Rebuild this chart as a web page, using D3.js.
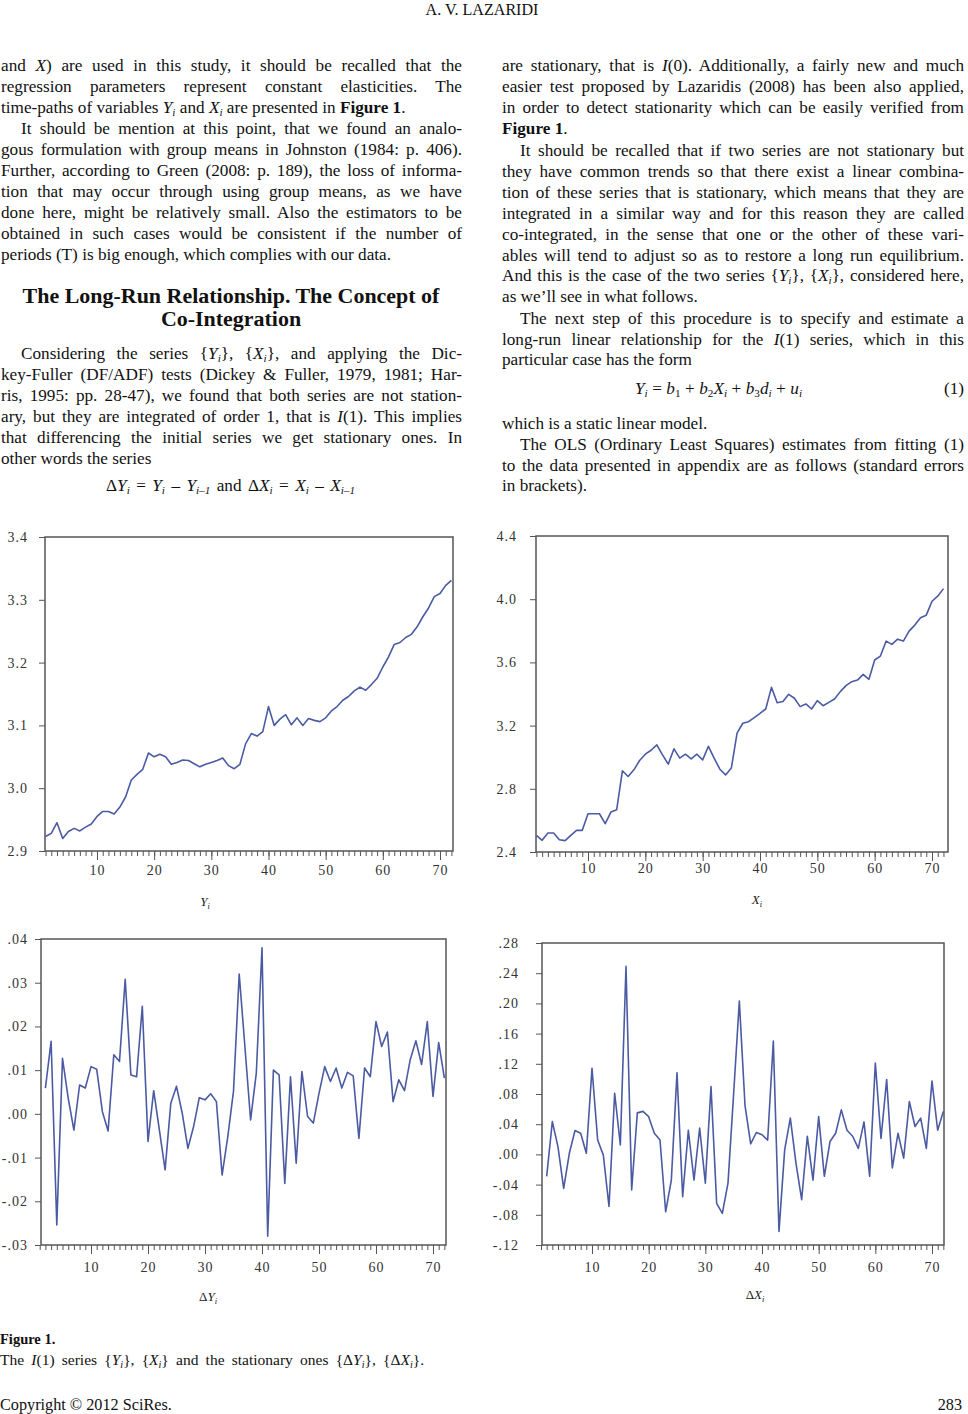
<!DOCTYPE html>
<html><head><meta charset="utf-8">
<script src="https://cdn.jsdelivr.net/npm/d3@7"></script>
<style>body{margin:0;background:#fff} svg{display:block}</style>
</head><body>
<svg id="page" width="968" height="1414"></svg>
<script>
// ---------- DATA ----------
const xIndex = d3.range(1, 73);
const xTickLabels = [10, 20, 30, 40, 50, 60, 70];

const Yvals = [2.923,2.928,2.945,2.920,2.931,2.936,2.932,2.938,2.943,2.955,
2.963,2.963,2.959,2.970,2.986,3.013,3.022,3.030,3.056,3.050,
3.054,3.050,3.038,3.041,3.045,3.044,3.039,3.034,3.038,3.041,
3.044,3.048,3.036,3.031,3.038,3.071,3.087,3.083,3.090,3.130,
3.100,3.110,3.117,3.101,3.112,3.100,3.111,3.108,3.106,3.112,
3.123,3.130,3.140,3.146,3.155,3.161,3.156,3.165,3.175,3.193,
3.209,3.229,3.232,3.240,3.245,3.257,3.273,3.287,3.305,3.310,3.323,3.331];

const Xvals = [2.505,2.474,2.520,2.520,2.478,2.472,2.505,2.537,2.537,2.642,
2.642,2.642,2.579,2.653,2.667,2.914,2.878,2.920,2.979,3.019,
3.044,3.078,3.015,2.956,3.053,2.994,3.019,2.989,3.019,2.983,
3.069,2.994,2.924,2.888,2.931,3.152,3.215,3.225,3.251,3.278,
3.305,3.442,3.345,3.352,3.398,3.373,3.320,3.337,3.305,3.358,
3.326,3.347,3.368,3.415,3.453,3.478,3.488,3.524,3.493,3.615,
3.640,3.735,3.714,3.747,3.735,3.798,3.836,3.882,3.899,3.987,4.019,4.067];

// observations 2..72
const dYvals = [0.0059,0.0166,-0.0254,0.0127,0.0036,-0.0037,0.0066,0.0059,0.0108,0.0102,
0.0005,-0.0039,0.0135,0.0120,0.0308,0.0089,0.0085,0.0246,-0.0063,0.0053,
-0.0037,-0.0128,0.0024,0.0063,0.0002,-0.0079,-0.0029,0.0037,0.0032,0.0046,
0.0028,-0.0140,-0.0052,0.0052,0.0320,0.0154,-0.0014,0.0093,0.0380,-0.0280,
0.0100,0.0089,-0.0159,0.0085,-0.0113,0.0097,-0.0006,-0.0021,0.0047,0.0108,
0.0074,0.0105,0.0059,0.0095,0.0087,-0.0056,0.0105,0.0085,0.0211,0.0154,
0.0187,0.0028,0.0078,0.0053,0.0124,0.0167,0.0113,0.0211,0.0040,0.0163,0.0082];

const dXvals = [-0.029,0.0435,0.010,-0.045,0.0015,0.0316,0.028,0.0015,0.114,0.019,
-0.001,-0.069,0.081,0.0126,0.249,-0.047,0.055,0.057,0.050,0.028,
0.019,-0.076,-0.034,0.108,-0.056,0.032,-0.034,0.035,-0.038,0.090,
-0.065,-0.078,-0.038,0.081,0.203,0.065,0.014,0.029,0.026,0.019,
0.150,-0.102,0.006,0.048,-0.012,-0.060,0.024,-0.034,0.050,-0.029,
0.017,0.028,0.059,0.032,0.024,0.008,0.043,-0.029,0.121,0.021,
0.099,-0.018,0.028,-0.005,0.070,0.037,0.048,0.008,0.097,0.032,0.057];

const yTicksY  = [2.9, 3.0, 3.1, 3.2, 3.3, 3.4];
const yTicksX  = [2.4, 2.8, 3.2, 3.6, 4.0, 4.4];
const yTicksDY = [-0.03, -0.02, -0.01, 0, 0.01, 0.02, 0.03, 0.04];
const yTicksDX = [-0.12, -0.08, -0.04, 0, 0.04, 0.08, 0.12, 0.16, 0.20, 0.24, 0.28];
const axisTitles = ["*Y*~i~", "*X*~i~", "Δ*Y*~i~", "Δ*X*~i~"];

// ---------- TEXT ----------
const leftLines = [
 ["and *X*) are used in this study, it should be recalled that the", 65, 0, true],
 ["regression parameters represent constant elasticities. The", 86, 0, true],
 ["time-paths of variables *Y*~i~ and *X*~i~ are presented in #Figure 1#.", 107, 0, false],
 ["It should be mention at this point, that we found an analo-", 128, 20, true],
 ["gous formulation with group means in Johnston (1984: p. 406).", 149, 0, true],
 ["Further, according to Green (2008: p. 189), the loss of informa-", 170, 0, true],
 ["tion that may occur through using group means, as we have", 191, 0, true],
 ["done here, might be relatively small. Also the estimators to be", 212, 0, true],
 ["obtained in such cases would be consistent if the number of", 233, 0, true],
 ["periods (T) is big enough, which complies with our data.", 254, 0, false],
 ["Considering the series {*Y*~i~}, {*X*~i~}, and applying the Dic-", 353, 20, true],
 ["key-Fuller (DF/ADF) tests (Dickey & Fuller, 1979, 1981; Har-", 374, 0, true],
 ["ris, 1995: pp. 28-47), we found that both series are not station-", 395, 0, true],
 ["ary, but they are integrated of order 1, that is *I*(1). This implies", 416, 0, true],
 ["that differencing the initial series we get stationary ones. In", 437, 0, true],
 ["other words the series", 458, 0, false]
];
const rightLines = [
 ["are stationary, that is *I*(0). Additionally, a fairly new and much", 65, 0, true],
 ["easier test proposed by Lazaridis (2008) has been also applied,", 86, 0, true],
 ["in order to detect stationarity which can be easily verified from", 107, 0, true],
 ["#Figure 1#.", 128, 0, false],
 ["It should be recalled that if two series are not stationary but", 150, 18, true],
 ["they have common trends so that there exist a linear combina-", 171, 0, true],
 ["tion of these series that is stationary, which means that they are", 192, 0, true],
 ["integrated in a similar way and for this reason they are called", 213, 0, true],
 ["co-integrated, in the sense that one or the other of these vari-", 234, 0, true],
 ["ables will tend to adjust so as to restore a long run equilibrium.", 255, 0, true],
 ["And this is the case of the two series {*Y*~i~}, {*X*~i~}, considered here,", 275, 0, true],
 ["as we’ll see in what follows.", 296, 0, false],
 ["The next step of this procedure is to specify and estimate a", 318, 18, true],
 ["long-run linear relationship for the *I*(1) series, which in this", 339, 0, true],
 ["particular case has the form", 359, 0, false],
 ["which is a static linear model.", 423, 0, false],
 ["The OLS (Ordinary Least Squares) estimates from fitting (1)", 444, 18, true],
 ["to the data presented in appendix are as follows (standard errors", 465, 0, true],
 ["in brackets).", 485, 0, false]
];
const headingLines = ["The Long-Run Relationship. The Concept of", "Co-Integration"];
const eqLeft = "Δ*Y*~i~ = *Y*~i~ – *Y*~i–1~ and Δ*X*~i~ = *X*~i~ – *X*~i–1~";
const eqRight = "*Y*~i~ = *b*~1~ + *b*~2~*X*~i~ + *b*~3~*d*~i~ + *u*~i~";
const captionTitle = "#Figure 1.#";
const captionText = "The *I*(1) series {*Y*~i~}, {*X*~i~} and the stationary ones {Δ*Y*~i~}, {Δ*X*~i~}.";
const headerText = "A. V. LAZARIDI";
const footerLeft = "Copyright © 2012 SciRes.";
const footerRight = "283";

// ---------- RENDER ----------
const svg = d3.select('#page');
const FONT = '"Liberation Serif","Times New Roman",serif';
let bodySize = 16;

function rich(g, str, x, y, o = {}) {
  const size = o.size || bodySize;
  const t = g.append('text').attr('x', x).attr('y', y)
    .attr('font-family', FONT).attr('font-size', size)
    .attr('fill', o.fill || '#111')
    .attr('font-weight', o.bold ? 'bold' : 'normal')
    .attr('text-anchor', o.anchor || 'start');
  const parts = str.split(/(\*[^*]+\*|#[^#]+#|~[^~]+~)/).filter(s => s.length);
  let shifted = false;
  const sh = Math.max(2, Math.round(size * 0.2));
  let plain = '';
  parts.forEach(p => {
    let txt = p, it = false, bd = false, sub = false;
    if (p.length > 2 && p[0] === '*' && p[p.length - 1] === '*') { txt = p.slice(1, -1); it = true; }
    else if (p.length > 2 && p[0] === '#' && p[p.length - 1] === '#') { txt = p.slice(1, -1); bd = true; }
    else if (p.length > 2 && p[0] === '~' && p[p.length - 1] === '~') { txt = p.slice(1, -1); sub = true; it = /[a-z]/.test(txt); }
    plain += txt;
    const ts = t.append('tspan').text(txt);
    if (it) ts.attr('font-style', 'italic');
    if (bd) ts.attr('font-weight', 'bold');
    if (sub) { ts.attr('font-size', size * 0.65); if (!shifted) { ts.attr('dy', sh); shifted = true; } }
    else if (shifted) { ts.attr('dy', -sh); shifted = false; }
  });
  if (o.width) {
    const len = t.node().getComputedTextLength();
    const n = (plain.match(/ /g) || []).length;
    if (n > 0) t.style('word-spacing', ((o.width - len) / n) + 'px');
  }
  return t;
}
function measure(str, size, bold) {
  const p = rich(svg, str, 0, -200, { size, bold });
  const w = p.node().getComputedTextLength();
  p.remove();
  return w;
}
function fit(str, size, target, bold, lo, hi) {
  return Math.max(lo, Math.min(hi, size * target / measure(str, size, bold)));
}

// calibrate body font size from several unjustified lines of known width
{
  const probes = [
    ["periods (T) is big enough, which complies with our data.", 407],
    ["time-paths of variables *Y*~i~ and *X*~i~ are presented in #Figure 1#.", 436],
    ["other words the series", 156],
    ["particular case has the form", 199],
    ["which is a static linear model.", 169],
    ["as we’ll see in what follows.", 170]
  ];
  let m = 0, r = 0;
  probes.forEach(([s, w]) => { m += measure(s, 16); r += w; });
  bodySize = Math.max(14.5, Math.min(17.5, 16 * r / m));
}
const base = c => c + bodySize * 0.32;

const textG = svg.append('g');
{
  const hs = fit(headerText, 15, 113, false, 13, 18);
  rich(textG, headerText, 482, 10 + hs * 0.34, { size: hs, anchor: 'middle' });
}

function column(lines, x0, w) {
  lines.forEach(([s, cy, ind, just]) => {
    rich(textG, s, x0 + ind, base(cy), just ? { width: w - ind } : {});
  });
}
column(leftLines, 1, 461);
column(rightLines, 502, 462);

// heading (fit width)
{
  const hs = fit(headingLines[0], 20, 417, true, 17, 22);
  rich(textG, headingLines[0], 231, 296 + hs * 0.33, { size: hs, bold: true, anchor: 'middle' });
  rich(textG, headingLines[1], 231, 319 + hs * 0.33, { size: hs, bold: true, anchor: 'middle' });
}

rich(textG, eqLeft, 106, base(485), { width: 249 });
rich(textG, eqRight, 635, base(388), { width: 167 });
rich(textG, "(1)", 964, base(388), { anchor: 'end' });

{
  const fs = fit(footerLeft, 15, 172, false, 13, 17.5);
  const cs = fit(captionText, 14, 424, false, 13, 15.5);
  rich(textG, captionTitle, 0, 1339 + 5, { size: 14.5 });
  rich(textG, captionText, 0, 1360 + 5, { size: cs, width: 424 });
  rich(textG, footerLeft, 0, 1405 + 5, { size: fs });
  rich(textG, footerRight, 962, 1405 + 5, { size: fs, anchor: 'end' });
}

// charts
const f1 = d3.format('.1f');
const f2 = v => (v < 0 ? '-' : '') + Math.abs(v).toFixed(2).replace(/^0/, '');

const charts = [
  { vals: Yvals,  start: 1, frame: { l: 45,  r: 453, t: 537, b: 851 },  x10: 97,  x70: 440, dom: [2.9, 3.4],    ticks: yTicksY,  fmt: f1, ypad: 11, xpad: 5, title: axisTitles[0], tx: 205, ty: 902 },
  { vals: Xvals,  start: 1, frame: { l: 536, r: 948, t: 536, b: 852 },  x10: 588, x70: 932, dom: [2.4, 4.4],    ticks: yTicksX,  fmt: f1, ypad: 13, xpad: 2, title: axisTitles[1], tx: 757, ty: 900 },
  { vals: dYvals, start: 2, frame: { l: 41,  r: 446, t: 939, b: 1245 }, x10: 91,  x70: 433, dom: [-0.03, 0.04], ticks: yTicksDY, fmt: f2, ypad: 7,  xpad: 8, title: axisTitles[2], tx: 208, ty: 1297 },
  { vals: dXvals, start: 2, frame: { l: 542, r: 944, t: 943, b: 1245 }, x10: 592, x70: 932, dom: [-0.12, 0.28], ticks: yTicksDX, fmt: f2, ypad: 17, xpad: 8, title: axisTitles[3], tx: 755, ty: 1295 }
];

const AX = '#555';
charts.forEach(c => {
  const g = svg.append('g');
  const x = d3.scaleLinear().domain([10, 70]).range([c.x10, c.x70]);
  const y = d3.scaleLinear().domain(c.dom).range([c.frame.b, c.frame.t]);
  const pts = c.vals.map((v, i) => [c.start + i, v]);

  const styleAxis = a => {
    a.select('.domain').remove();
    a.selectAll('line').attr('stroke', AX).attr('stroke-width', 1);
    a.selectAll('text').attr('font-family', FONT).attr('font-size', 14)
      .attr('fill', '#333').style('letter-spacing', '1px');
  };

  g.append('g').attr('transform', `translate(0,${c.frame.b})`)
    .call(d3.axisBottom(x).tickValues(xIndex).tickSize(5).tickFormat(''))
    .call(styleAxis);
  g.append('g').attr('transform', `translate(0,${c.frame.b})`)
    .call(d3.axisBottom(x).tickValues(xTickLabels).tickSize(9).tickPadding(c.xpad))
    .call(styleAxis);
  g.append('g').attr('transform', `translate(${c.frame.l},0)`)
    .call(d3.axisLeft(y).tickValues(c.ticks).tickSize(6).tickPadding(c.ypad).tickFormat(c.fmt))
    .call(styleAxis);

  g.append('rect').attr('x', c.frame.l).attr('y', c.frame.t)
    .attr('width', c.frame.r - c.frame.l).attr('height', c.frame.b - c.frame.t)
    .attr('fill', 'none').attr('stroke', AX).attr('stroke-width', 1.5);

  g.append('path').datum(pts)
    .attr('d', d3.line().x(d => x(d[0])).y(d => y(d[1])))
    .attr('fill', 'none').attr('stroke', '#4b5ba3').attr('stroke-width', 1.6)
    .attr('stroke-linejoin', 'round');

  rich(g, c.title, c.tx, c.ty + 4, { size: 13, anchor: 'middle', fill: '#222' });
});
</script>
</body></html>
